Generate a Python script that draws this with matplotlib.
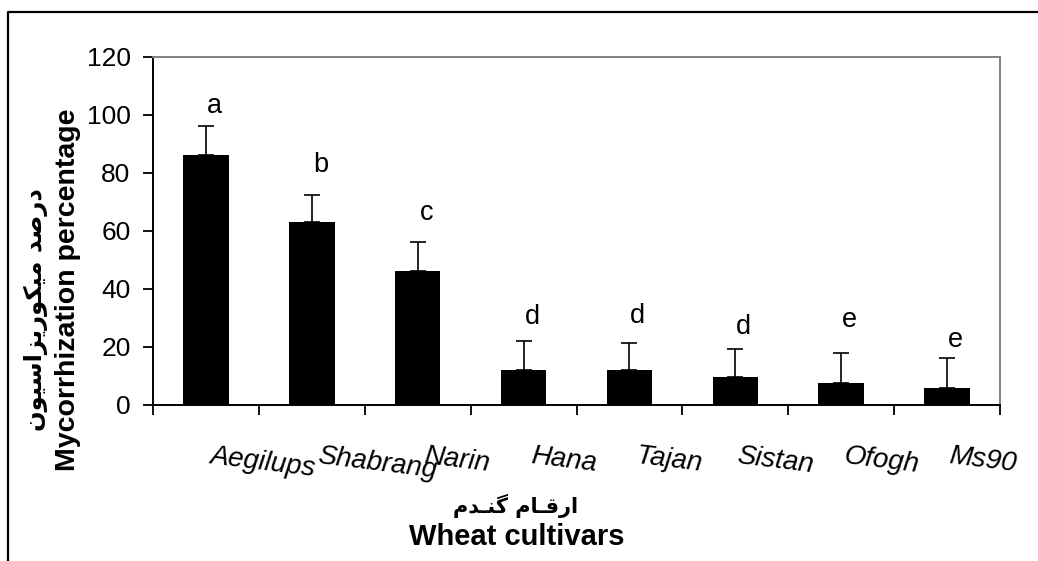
import numpy as np
import matplotlib.pyplot as plt
from matplotlib.lines import Line2D

# data
cultivars = ['Aegilups', 'Shabrang', 'Narin', 'Hana', 'Tajan', 'Sistan', 'Ofogh', 'Ms90']
mycorrhization = [86, 63, 46.3, 12.1, 12, 9.8, 7.5, 6]
error_up = [10, 9.5, 9.7, 9.9, 9.5, 9.4, 10.3, 10.3]
group_letters = ['a', 'b', 'c', 'd', 'd', 'd', 'e', 'e']
letter_heights = [100.6, 80.4, 63.6, 27.8, 28.4, 24.5, 27.0, 20.1]

# layout of the slanted cultivar names (offset from each bar, in categories)
label_shift = [0.54, 0.62, 0.37, 0.38, 0.38, 0.38, 0.38, 0.34]

# Persian labels in presentation forms, visual order (matplotlib does no shaping)
ylabel_fa = '\uFEA9\uFEAD\uFEBB\uFEAA \uFEE3\uFBFF\uFB91\uFEEE\uFEAD\uFBFE\uFEB0\uFE8D\uFEB3\uFBFF\uFEEE\uFEE5'[::-1]
xlabel_fa = '\uFE8D\uFEAD\uFED7\u0640\uFE8E\uFEE1 \uFB94\uFEE8\u0640\uFEAA\uFEE1'[::-1]

plt.rcParams['font.family'] = ['Liberation Sans', 'DejaVu Sans']

fig = plt.figure(figsize=(10.38, 5.61), dpi=100)
ax = fig.add_axes([0.1474, 0.2781, 0.8160, 0.6208])

x = np.arange(len(cultivars))
ax.bar(x, mycorrhization, width=0.43, color='black')
ax.errorbar(x, mycorrhization, yerr=[np.zeros(len(x)), error_up], fmt='none',
            ecolor='black', elinewidth=1.2, capsize=5.8, capthick=1.2)

for i, (lt, h) in enumerate(zip(group_letters, letter_heights)):
    ax.text(i + 0.08, h, lt, ha='center', va='baseline', fontsize=19.5)

for i, (name, s) in enumerate(zip(cultivars, label_shift)):
    ax.text(i + s, -13.1, name, ha='center', va='top', rotation=-7,
            fontsize=20, style='italic', clip_on=False)

ax.set_xlim(-0.5, len(cultivars) - 0.5)
ax.set_ylim(0, 120)
ax.set_yticks(range(0, 121, 20))
ax.set_xticks(np.arange(-0.5, len(cultivars), 1))
ax.set_xticklabels([])
ax.tick_params(axis='y', labelsize=19, length=7.2, width=1.3, pad=9)
ax.tick_params(axis='x', length=7.2, width=1.3)

for side in ['left', 'bottom']:
    ax.spines[side].set_linewidth(1.4)
    ax.spines[side].set_color('black')
for side in ['top', 'right']:
    ax.spines[side].set_linewidth(1.4)
    ax.spines[side].set_color('#808080')

fig.text(68 / 1038, 1 - 290 / 561, 'Mycorrhization percentage', rotation=90,
         ha='center', va='center', fontsize=20.5, fontweight='bold')
fig.text(36 / 1038, 1 - 310 / 561, ylabel_fa, rotation=90, ha='center', va='center',
         fontsize=17.5, fontweight='bold', family=['DejaVu Sans'])
fig.text(516 / 1038, 1 - 506 / 561, xlabel_fa, ha='center', va='center',
         fontsize=15, fontweight='bold', family=['DejaVu Sans'])
fig.text(517 / 1038, 1 - 537 / 561, 'Wheat cultivars', ha='center', va='center',
         fontsize=21, fontweight='bold')

# outer frame, cut off at the right and bottom
fig.add_artist(Line2D([8 / 1038, 8 / 1038, 1.0], [0.0, 1 - 11.5 / 561, 1 - 11.5 / 561],
                      transform=fig.transFigure, color='black', linewidth=1.6))

fig.savefig('out.png', dpi=100)
